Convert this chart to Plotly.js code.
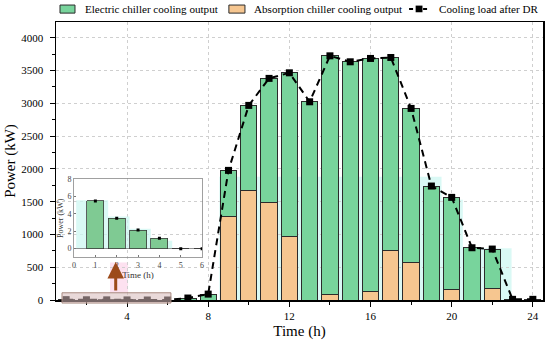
<!DOCTYPE html>
<html>
<head>
<meta charset="utf-8">
<script src="https://cdn.plot.ly/plotly-3.0.1.min.js"></script>
<style>html,body{margin:0;padding:0;background:#fff;}#chart{width:550px;height:341px;}</style>
</head>
<body>
<div id="chart"></div>
<script>
// ---- data ----
var hours = [1,2,3,4,5,6,7,8,9,10,11,12,13,14,15,16,17,18,19,20,21,22,23,24];
var loadAfterDR = [5.5,3.5,2.15,1.2,0,0,30,90,1977,2968,3380,3465,3023,3724,3633,3684,3699,2922,1738,1565,797,777,10,10];
var absorptionOut = [0,0,0,0,0,0,0,0,1276,1666,1489,965,0,87,0,137,762,569,0,163,0,173,0,0];
var electricOut = [5.5,3.5,2.15,1.2,0,0,30,90,701,1302,1891,2500,3023,3637,3633,3547,2937,2353,1738,1402,797,604,10,10];
// inset (hours 1-6)
var insetHours = [1,2,3,4,5,6];
var insetElectric = [5.5,3.5,2.15,1.2,0,0];
var insetLoad = [5.5,3.5,2.15,1.2,0,0];
// light cyan highlight bands (step outlines)
var shadeX = [8.55,19.5,20.55,22.95];
var shadeY = [1880,1530,790,790];
var insetShadeX = [0.1,1.6,2.6,3.6,4.6];
var insetShadeY = [5.6,3.7,2.3,0.9,0.9];
// legend labels
var legendLabels = ['Electric chiller cooling output','Absorption chiller cooling output','Cooling load after DR'];

var green = '#78d49c', orange = '#f6c690', edge = '#2b2b2b';
var serif = 'Liberation Serif, Times New Roman, serif';

function stepPath(xs, ys) {
  var p = 'M' + xs[0] + ',0';
  for (var i = 0; i < xs.length - 1; i++) {
    p += ' L' + xs[i] + ',' + ys[i] + ' L' + xs[i+1] + ',' + ys[i];
  }
  p += ' L' + xs[xs.length-1] + ',0 Z';
  return p;
}

var traces = [
  {x: hours, y: absorptionOut, type:'bar', name:legendLabels[1],
   marker:{color:orange, line:{color:edge, width:1}}},
  {x: hours, y: electricOut, type:'bar', name:legendLabels[0],
   marker:{color:green, line:{color:edge, width:1}}},
  {x: hours, y: loadAfterDR, type:'scatter', mode:'lines+markers', name:legendLabels[2],
   line:{color:'#000', width:2, dash:'7px,5px'}, marker:{symbol:'square', size:7, color:'#000'}},
  // inset
  {x: insetHours, y: insetElectric, xaxis:'x2', yaxis:'y2', type:'bar', width:0.8,
   marker:{color:'#7fca93', line:{color:'#3a3a3a', width:0.8}}},
  {x: insetHours, y: insetLoad, xaxis:'x2', yaxis:'y2', type:'scatter', mode:'markers',
   marker:{symbol:'square', size:3, color:'#000'}}
];

// legend drawn in paper coordinates
var legShapes = [
  {type:'rect', xref:'paper', yref:'paper', x0:0.0082, x1:0.039, y0:1.032, y1:1.061,
   fillcolor:green, line:{color:edge, width:1}},
  {type:'rect', xref:'paper', yref:'paper', x0:0.355, x1:0.388, y0:1.032, y1:1.061,
   fillcolor:orange, line:{color:edge, width:1}},
  {type:'line', xref:'paper', yref:'paper', x0:0.725, x1:0.766, y0:1.047, y1:1.047,
   line:{color:'#000', width:2, dash:'4px,3px'}},
  {type:'rect', xref:'paper', yref:'paper', x0:0.7385, x1:0.7525, y0:1.035, y1:1.059,
   fillcolor:'#000', line:{color:'#000', width:0}}
];
var legFont = {size:11.1, family:serif, color:'#000'};
var legAnn = [
  {xref:'paper', yref:'paper', x:0.0554, y:1.047, xanchor:'left', yanchor:'middle', text:legendLabels[0], showarrow:false, font:legFont},
  {xref:'paper', yref:'paper', x:0.4025, y:1.047, xanchor:'left', yanchor:'middle', text:legendLabels[1], showarrow:false, font:legFont},
  {xref:'paper', yref:'paper', x:0.782, y:1.047, xanchor:'left', yanchor:'middle', text:legendLabels[2], showarrow:false, font:legFont}
];

var layout = {
  width:550, height:341,
  margin:{l:56, r:7, t:22, b:41, autoexpand:false},
  paper_bgcolor:'#fff', plot_bgcolor:'rgba(0,0,0,0)',
  font:{family:serif, size:11, color:'#000'},
  barmode:'stack', bargap:0.2,
  showlegend:false,
  xaxis:{range:[0.5,24.5], tick0:0, dtick:4, ticks:'outside', ticklen:5, tickwidth:1, tickcolor:'#000',
         showline:true, linecolor:'#000', linewidth:1.5, mirror:true, zeroline:false,
         showgrid:true, gridcolor:'#cfcfcf', griddash:'dot', gridwidth:1,
         minor:{ticks:'outside', tick0:0, dtick:2, ticklen:3, tickcolor:'#000', showgrid:false},
         tickfont:{size:11, family:serif},
         title:{text:'Time (h)', font:{size:15, family:serif}, standoff:5}},
  yaxis:{range:[0,4240], tick0:0, dtick:500, ticks:'outside', ticklen:5, tickwidth:1, tickcolor:'#000',
         showline:true, linecolor:'#000', linewidth:1.5, mirror:true, zeroline:false,
         showgrid:true, gridcolor:'#cfcfcf', griddash:'dot', gridwidth:1,
         minor:{ticks:'outside', tick0:0, dtick:250, ticklen:3, tickcolor:'#000', showgrid:false},
         tickfont:{size:11, family:serif}, ticklabelstandoff:4,
         title:{text:'Power (kW)', font:{size:15, family:serif}, standoff:2}},
  xaxis2:{domain:[0.037,0.300], anchor:'y2', range:[0,6], dtick:1, tick0:0, ticks:'inside', ticklen:2,
          tickcolor:'#777', showline:true, linecolor:'#888', linewidth:0.8, mirror:true, zeroline:false,
          showgrid:false, tickfont:{size:8, family:serif, color:'#444'},
          title:{text:'Time (h)', font:{size:9, family:serif, color:'#333'}, standoff:2}},
  yaxis2:{domain:[0.1536,0.434], anchor:'x2', range:[-1,8], tickvals:[0,2,4,6,8], ticks:'inside', ticklen:2,
          tickcolor:'#777', showline:true, linecolor:'#888', linewidth:0.8, mirror:true,
          zeroline:true, zerolinecolor:'#777', zerolinewidth:0.8,
          showgrid:false, tickfont:{size:8, family:serif, color:'#444'},
          title:{text:'Power (kW)', font:{size:8, family:serif, color:'#333'}, standoff:2}},
  shapes:[
    {type:'path', xref:'x', yref:'y', path:stepPath(shadeX, shadeY),
     fillcolor:'rgba(205,247,242,0.75)', line:{width:0}, layer:'below'},
    {type:'path', xref:'x2', yref:'y2', path:stepPath(insetShadeX, insetShadeY),
     fillcolor:'rgba(205,247,242,0.75)', line:{width:0}, layer:'below'},
    {type:'rect', xref:'paper', yref:'paper', x0:0.111, x1:0.148, y0:0.026, y1:0.135,
     fillcolor:'rgba(252,205,230,0.6)', line:{width:0}, layer:'below'},
    {type:'rect', xref:'paper', yref:'paper', x0:0.0123, x1:0.236, y0:-0.011, y1:0.026,
     fillcolor:'rgba(215,185,185,0.55)', line:{color:'#a88a80', width:1}, layer:'above'}
  ].concat(legShapes),
  annotations:[
    {xref:'paper', yref:'paper', x:0.1226, y:0.137, ax:0, ay:30, text:'', showarrow:true,
     arrowhead:2, arrowsize:1.1, arrowwidth:3, arrowcolor:'#9c4a1a', standoff:0, startstandoff:0}
  ].concat(legAnn)
};

Plotly.newPlot('chart', traces, layout, {displayModeBar:false, staticPlot:true});
</script>
</body>
</html>
